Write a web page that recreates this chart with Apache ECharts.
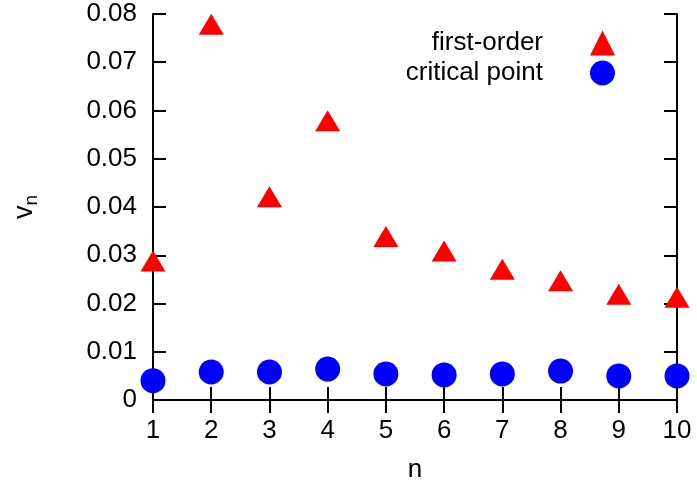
<!DOCTYPE html>
<html>
<head>
<meta charset="utf-8">
<script src="https://cdn.jsdelivr.net/npm/echarts@6/dist/echarts.min.js"></script>
<style>
  html, body { margin: 0; padding: 0; background: #fff; }
  #chart { width: 697px; height: 485px; }
</style>
</head>
<body>
<div id="chart"></div>
<script>
// n = 1..10
const orders = [1, 2, 3, 4, 5, 6, 7, 8, 9, 10]
const firstOrder = [0.0288, 0.0779, 0.0421, 0.0579, 0.0339, 0.0309, 0.0271, 0.0247, 0.0219, 0.0213]
const criticalPoint = [0.0040, 0.0058, 0.0058, 0.0064, 0.0054, 0.0052, 0.0054, 0.0060, 0.0050, 0.0050]
const seriesNames = ['first-order', 'critical point']

const font = 'Liberation Sans, Helvetica, Arial, sans-serif'
const fs = 26
const pairs = (ys) => orders.map((n, i) => [n, ys[i]])

const boxLine = { lineStyle: { color: '#000', width: 2 } }
const inTicks = { inside: true, length: 13, lineStyle: { color: '#000', width: 2 } }

const chart = echarts.init(document.getElementById('chart'), null, { renderer: 'canvas' })

chart.setOption({
  animation: false,
  textStyle: { fontFamily: font, color: '#000' },
  grid: { left: 153, right: 20, top: 14, bottom: 85, outerBoundsMode: 'none' },
  legend: {
    orient: 'vertical',
    right: 77,
    top: 25,
    align: 'right',
    itemWidth: 25,
    itemHeight: 25,
    itemGap: 4,
    textStyle: { fontSize: fs, fontFamily: font, color: '#000', padding: [0, 42, 0, 0] },
    data: seriesNames
  },
  xAxis: [
    {
      type: 'value', min: 1, max: 10, interval: 1, position: 'bottom',
      name: 'n', nameLocation: 'middle', nameGap: 57,
      nameTextStyle: { fontSize: fs, fontFamily: font, color: '#000' },
      axisLine: boxLine, axisTick: inTicks, splitLine: { show: false },
      axisLabel: { fontSize: fs, fontFamily: font, color: '#000', margin: 18 }
    },
    {
      type: 'value', min: 1, max: 10, interval: 1, position: 'top',
      axisLine: boxLine, axisTick: inTicks, splitLine: { show: false },
      axisLabel: { show: false }
    }
  ],
  yAxis: [
    {
      type: 'value', min: 0, max: 0.08, interval: 0.01, position: 'left',
      name: '{v|v}{s|n}', nameLocation: 'middle', nameGap: 112, nameRotate: 90,
      nameTextStyle: {
        rich: {
          v: { fontSize: 27, fontFamily: font, color: '#000', lineHeight: 32, verticalAlign: 'middle' },
          s: { fontSize: 19, fontFamily: font, color: '#000', lineHeight: 32, verticalAlign: 'bottom' }
        }
      },
      axisLine: boxLine, axisTick: inTicks, splitLine: { show: false },
      axisLabel: {
        fontSize: fs, fontFamily: font, color: '#000', margin: 16,
        formatter: (v) => (v === 0 ? '0' : v.toFixed(2))
      }
    },
    {
      type: 'value', min: 0, max: 0.08, interval: 0.01, position: 'right',
      axisLine: boxLine, axisTick: inTicks, splitLine: { show: false },
      axisLabel: { show: false }
    }
  ],
  series: [
    {
      name: seriesNames[0], type: 'scatter', clip: false,
      symbol: 'triangle', symbolSize: [25, 21],
      itemStyle: { color: '#ff0000', opacity: 1 },
      data: pairs(firstOrder)
    },
    {
      name: seriesNames[1], type: 'scatter', clip: false,
      symbol: 'circle', symbolSize: 25,
      itemStyle: { color: '#0000ff', opacity: 1 },
      data: pairs(criticalPoint)
    }
  ]
})
</script>
</body>
</html>
